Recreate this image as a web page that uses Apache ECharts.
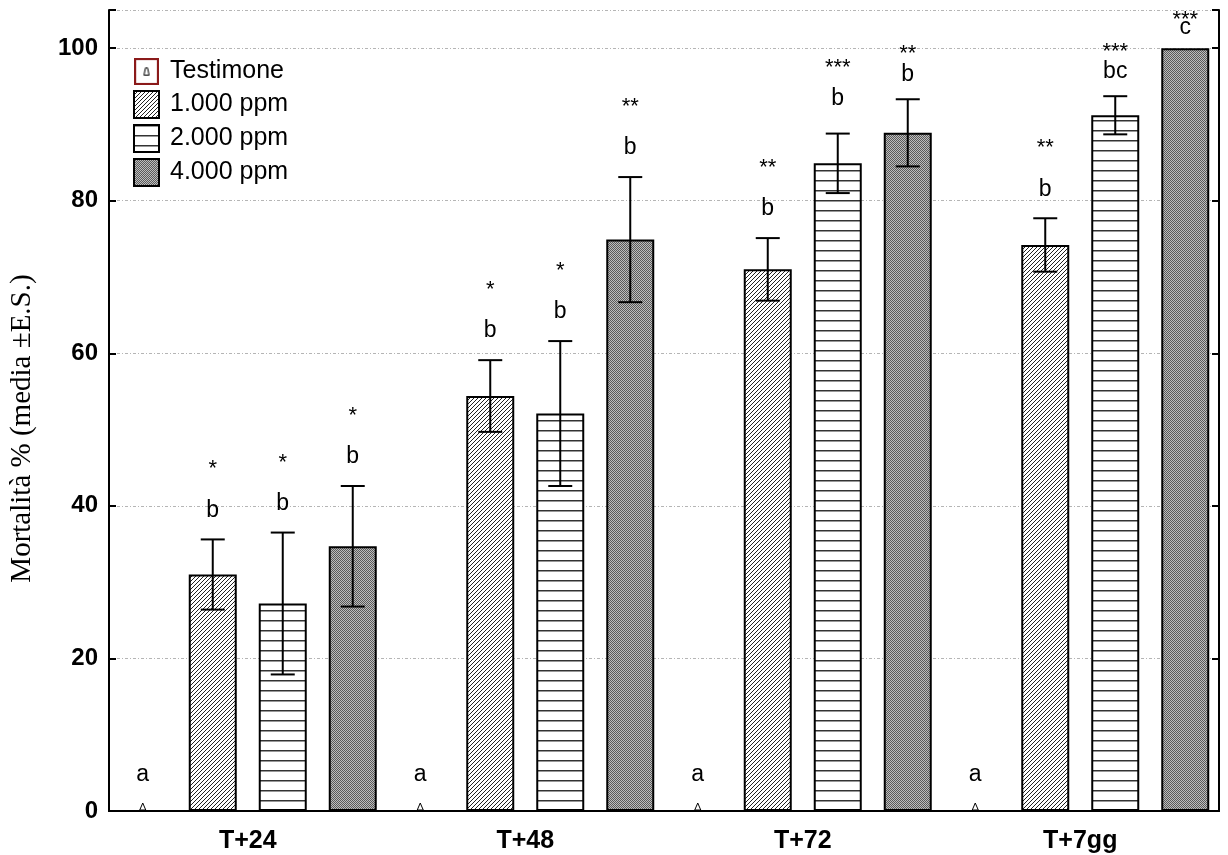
<!DOCTYPE html>
<html>
<head>
<meta charset="utf-8">
<script src="https://cdn.jsdelivr.net/npm/echarts@6/dist/echarts.min.js"></script>
<style>
html,body{margin:0;padding:0;background:#fff;}
#chart{width:1228px;height:855px;}
</style>
</head>
<body>
<div id="chart"></div>
<script>
// ---- data ----
var categories = ['T+24', 'T+48', 'T+72', 'T+7gg'];
var seriesNames = ['Testimone', '1.000 ppm', '2.000 ppm', '4.000 ppm'];
var testimone = [0, 0, 0, 0];
var testimoneSE = [0, 0, 0, 0];
var ppm1000 = [31.0, 54.4, 71.0, 74.2];
var ppm1000SE = [4.6, 4.7, 4.1, 3.5];
var ppm2000 = [27.2, 52.1, 84.9, 91.2];
var ppm2000SE = [9.3, 9.5, 3.9, 2.5];
var ppm4000 = [34.7, 74.9, 88.9, 100];
var ppm4000SE = [7.9, 8.2, 4.4, 0];
var lettersTest = ['a', 'a', 'a', 'a'];
var letters1000 = ['b', 'b', 'b', 'b'];
var letters2000 = ['b', 'b', 'b', 'bc'];
var letters4000 = ['b', 'b', 'b', 'c'];
var stars1000 = ['*', '*', '**', '**'];
var stars2000 = ['*', '*', '***', '***'];
var stars4000 = ['*', '**', '**', '***'];
var starsTest = ['', '', '', ''];
var yTicks = [0, 20, 40, 60, 80, 100];

var means = [testimone, ppm1000, ppm2000, ppm4000];
var ses = [testimoneSE, ppm1000SE, ppm2000SE, ppm4000SE];
var letters = [lettersTest, letters1000, letters2000, letters4000];
var stars = [starsTest, stars1000, stars2000, stars4000];

// ---- styles ----
var BAR_W = 48, BAR_GAP = 22;

function makePattern(kind) {
  var c = document.createElement('canvas');
  var ctx;
  if (kind === 'diag') {
    c.width = 4; c.height = 4; ctx = c.getContext('2d');
    ctx.fillStyle = '#fff'; ctx.fillRect(0, 0, 4, 4);
    ctx.strokeStyle = '#222'; ctx.lineWidth = 1;
    ctx.beginPath();
    ctx.moveTo(-1, 5); ctx.lineTo(5, -1);
    ctx.moveTo(-1, 1); ctx.lineTo(1, -1);
    ctx.moveTo(3, 5); ctx.lineTo(5, 3);
    ctx.stroke();
  } else if (kind === 'horiz') {
    c.width = 10; c.height = 10; ctx = c.getContext('2d');
    ctx.fillStyle = '#fff'; ctx.fillRect(0, 0, 10, 10);
    ctx.fillStyle = '#333'; ctx.fillRect(0, 0, 10, 1.5);
  } else {
    c.width = 2; c.height = 2; ctx = c.getContext('2d');
    ctx.fillStyle = '#bdbdbd'; ctx.fillRect(0, 0, 2, 2);
    ctx.fillStyle = '#5a5a5a'; ctx.fillRect(0, 0, 1, 1); ctx.fillRect(1, 1, 1, 1);
  }
  return { image: c, repeat: 'repeat' };
}

function testimoneIcon() {
  var c = document.createElement('canvas');
  c.width = 24; c.height = 26;
  var ctx = c.getContext('2d');
  ctx.fillStyle = '#fff'; ctx.fillRect(0, 0, 24, 26);
  ctx.strokeStyle = '#8b1a1a'; ctx.lineWidth = 2;
  ctx.strokeRect(1, 1, 22, 24);
  ctx.strokeStyle = '#000'; ctx.lineWidth = 1;
  ctx.beginPath();
  ctx.moveTo(9.5, 16.5); ctx.lineTo(11, 9.5); ctx.lineTo(13, 9.5); ctx.lineTo(14.5, 16.5); ctx.closePath();
  ctx.stroke();
  return 'image://' + c.toDataURL();
}

var fills = ['#fff', makePattern('diag'), makePattern('horiz'), makePattern('checker')];

var barSeries = seriesNames.map(function (name, i) {
  return {
    name: name,
    type: 'bar',
    barWidth: BAR_W,
    barGap: (BAR_GAP / BAR_W * 100) + '%',
    data: means[i],
    itemStyle: i === 0
      ? { color: 'rgba(255,255,255,0)', borderWidth: 0 }
      : { color: fills[i], borderColor: '#000', borderWidth: 2 },
    z: 2
  };
});

var errData = [];
for (var s = 0; s < 4; s++) {
  for (var c = 0; c < categories.length; c++) {
    errData.push([c, s, means[s][c], ses[s][c]]);
  }
}

function renderErr(params, api) {
  var c = api.value(0), s = api.value(1), m = api.value(2), se = api.value(3);
  var base = api.coord([c, 0]);
  var x = base[0] + (s - 1.5) * (BAR_W + BAR_GAP);
  var yMean = api.coord([c, m])[1];
  var yTop = api.coord([c, m + se])[1];
  var yBot = api.coord([c, m - se])[1];
  var ch = [];
  var cap = 12;
  if (se > 0) {
    ch.push({ type: 'line', shape: { x1: x, y1: yTop, x2: x, y2: yBot }, style: { stroke: '#000', lineWidth: 2 } });
    ch.push({ type: 'line', shape: { x1: x - cap, y1: yTop, x2: x + cap, y2: yTop }, style: { stroke: '#000', lineWidth: 2 } });
    ch.push({ type: 'line', shape: { x1: x - cap, y1: yBot, x2: x + cap, y2: yBot }, style: { stroke: '#000', lineWidth: 2 } });
  }
  if (s === 0) {
    ch.push({ type: 'polygon', shape: { points: [[x - 3, base[1] - 1], [x, base[1] - 8], [x + 3, base[1] - 1]] },
      style: { fill: '#fff', stroke: '#000', lineWidth: 1 } });
  }
  var plotTop = params.coordSys.y;
  var errTop = se > 0 ? yTop : yMean;
  var avail = errTop - plotTop;
  var lOff = 29, sOff = 76;
  if (s === 0) lOff = 36;
  if (avail < 125) {
    lOff = Math.max(20, avail * 0.28);
    sOff = Math.max(34, avail * 0.58);
  }
  var L = letters[s][c], S = stars[s][c];
  ch.push({ type: 'text', x: x, y: errTop - lOff,
    style: { text: L, fill: '#000', font: '23px "Liberation Sans", Arial, sans-serif', align: 'center', verticalAlign: 'middle' } });
  if (S) {
    ch.push({ type: 'text', x: x, y: errTop - sOff + 6,
      style: { text: S, fill: '#000', font: '22px "Liberation Sans", Arial, sans-serif', align: 'center', verticalAlign: 'middle' } });
  }
  return { type: 'group', children: ch };
}

var chart = echarts.init(document.getElementById('chart'), null, { renderer: 'canvas' });

var axisLineStyle = { color: '#000', width: 2 };

var option = {
  animation: false,
  backgroundColor: '#fff',
  grid: { left: 108, right: 9, top: 10, bottom: 44, containLabel: false },
  legend: {
    orient: 'vertical',
    left: 128,
    top: 53,
    itemWidth: 25,
    itemHeight: 27,
    itemGap: 5,
    icon: 'rect',
    textStyle: { fontSize: 25, color: '#000', fontFamily: '"Liberation Sans", Arial, sans-serif', padding: [0, 0, 0, 6] },
    data: [
      { name: 'Testimone', icon: testimoneIcon() },
      { name: '1.000 ppm' },
      { name: '2.000 ppm' },
      { name: '4.000 ppm' }
    ],
    selectedMode: false
  },
  xAxis: [
    {
      type: 'category',
      data: categories,
      axisLine: { lineStyle: axisLineStyle },
      axisTick: { inside: true, alignWithLabel: true, length: 7, lineStyle: { color: '#000', width: 2 } },
      axisLabel: { fontSize: 25, fontWeight: 'bold', color: '#000', margin: 18, fontFamily: '"Liberation Sans", Arial, sans-serif' },
      splitLine: { show: false }
    },
    {
      type: 'category',
      data: categories,
      position: 'top',
      axisLine: { lineStyle: axisLineStyle },
      axisTick: { inside: true, alignWithLabel: true, length: 7, lineStyle: { color: '#000', width: 2 } },
      axisLabel: { show: false },
      splitLine: { show: false }
    }
  ],
  yAxis: [
    {
      type: 'value',
      min: 0, max: 105, interval: 20,
      name: 'Mortalità % (media ±E.S.)',
      nameLocation: 'middle',
      nameGap: 72,
      nameTextStyle: { fontSize: 29, color: '#000', fontFamily: '"Liberation Serif", "Times New Roman", serif', padding: [0, 36, 0, 0] },
      axisLine: { show: true, lineStyle: axisLineStyle },
      axisTick: { show: true, inside: true, length: 7, lineStyle: { color: '#000', width: 2 } },
      axisLabel: {
        fontSize: 24, fontWeight: 'bold', color: '#000', margin: 11,
        fontFamily: '"Liberation Sans", Arial, sans-serif',
        formatter: function (v) { return yTicks.indexOf(v) >= 0 ? String(v) : ''; }
      },
      splitLine: { show: true, lineStyle: { color: '#b5b5b5', width: 1, type: [3, 2, 1, 2] } }
    },
    {
      type: 'value',
      min: 0, max: 105, interval: 20,
      position: 'right',
      axisLine: { show: true, lineStyle: axisLineStyle },
      axisTick: { show: true, inside: true, length: 7, lineStyle: { color: '#000', width: 2 } },
      axisLabel: { show: false },
      splitLine: { show: false }
    }
  ],
  series: barSeries.concat([{
    name: 'err',
    type: 'custom',
    renderItem: renderErr,
    data: errData,
    encode: { x: 0, y: 2 },
    z: 10,
    clip: false,
    silent: true
  }])
};

chart.setOption(option);
</script>
</body>
</html>
